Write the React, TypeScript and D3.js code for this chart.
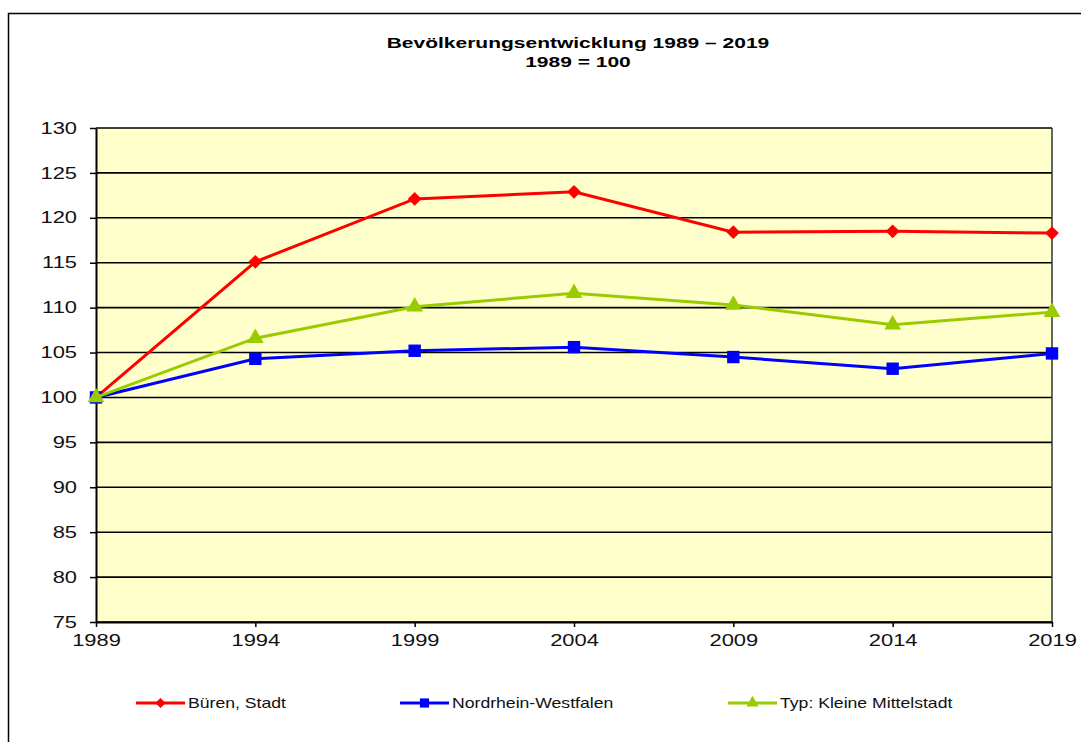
import { useEffect, useRef } from 'react';
import * as d3 from 'd3';

const years = [1989, 1994, 1999, 2004, 2009, 2014, 2019];
const bueren = [100, 115.1, 122.1, 122.9, 118.4, 118.5, 118.3];
const nrw = [100, 104.3, 105.2, 105.6, 104.5, 103.2, 104.9];
const mittelstadt = [100, 106.6, 110.1, 111.6, 110.3, 108.1, 109.5];
const yTicks = [75, 80, 85, 90, 95, 100, 105, 110, 115, 120, 125, 130];

const series = [
  { name: 'Büren, Stadt', values: bueren, color: '#ff0000', marker: 'diamond' },
  { name: 'Nordrhein-Westfalen', values: nrw, color: '#0000ff', marker: 'square' },
  { name: 'Typ: Kleine Mittelstadt', values: mittelstadt, color: '#99cc00', marker: 'triangle' },
];

const W = 1081;
const H = 742;
const FONT = '"Liberation Sans", Arial, sans-serif';

const App = () => {
  const svgRef = useRef<SVGSVGElement>(null);

  useEffect(() => {
    if (!svgRef.current) return;
    const svg = d3.select(svgRef.current);
    svg.selectAll('*').remove();

    const left = 96, right = 1052, top = 128, bottom = 622;
    // the source text is drawn horizontally stretched
    const tickStretch = 1.37, titleStretch = 1.4, legendStretch = 1.26;

    const x = d3.scalePoint<number>().domain(years).range([left, right]);
    const y = d3.scaleLinear().domain([75, 130]).range([bottom, top]);

    // outer frame (left + top only visible)
    svg.append('path')
      .attr('d', `M8.5,${H} V13.5 H${W}`)
      .attr('fill', 'none')
      .attr('stroke', '#000')
      .attr('stroke-width', 1.5);

    // title
    const title = svg.append('text')
      .attr('text-anchor', 'middle')
      .attr('transform', `scale(${titleStretch},1)`)
      .style('font-family', FONT)
      .style('font-weight', 'bold')
      .style('font-size', '15px')
      .style('fill', '#000');
    title.append('tspan').attr('x', 578 / titleStretch).attr('y', 48).text('Bevölkerungsentwicklung 1989 – 2019');
    title.append('tspan').attr('x', 578 / titleStretch).attr('y', 67).text('1989 = 100');

    // plot background
    svg.append('rect')
      .attr('x', left).attr('y', top)
      .attr('width', right - left).attr('height', bottom - top)
      .attr('fill', '#ffffcc');

    // horizontal gridlines
    svg.append('g')
      .selectAll('line')
      .data(yTicks)
      .enter()
      .append('line')
      .attr('x1', left).attr('x2', right)
      .attr('y1', d => y(d)).attr('y2', d => y(d))
      .attr('stroke', '#000')
      .attr('stroke-width', 1.6);

    // right border
    svg.append('line')
      .attr('x1', right).attr('x2', right)
      .attr('y1', top).attr('y2', bottom)
      .attr('stroke', '#333')
      .attr('stroke-width', 1.5);

    // y axis
    const yAxis = svg.append('g')
      .attr('transform', `translate(${left},0)`)
      .call(d3.axisLeft(y).tickValues(yTicks).tickSize(6).tickPadding(13).tickSizeOuter(0));
    yAxis.select('.domain').attr('stroke', '#000').attr('stroke-width', 2);
    yAxis.selectAll('.tick line').attr('stroke', '#000').attr('stroke-width', 1.5);
    yAxis.selectAll('text')
      .attr('x', -19 / tickStretch)
      .attr('transform', `scale(${tickStretch},1)`)
      .style('font-family', FONT)
      .style('font-size', '16px')
      .style('fill', '#111');

    // x axis
    const xAxis = svg.append('g')
      .attr('transform', `translate(0,${bottom})`)
      .call(d3.axisBottom(x).tickSize(5).tickPadding(8).tickSizeOuter(0).tickFormat(d => String(d)));
    xAxis.select('.domain').attr('stroke', '#000').attr('stroke-width', 2);
    xAxis.selectAll('.tick line').attr('stroke', '#000').attr('stroke-width', 1.5);
    xAxis.selectAll('text')
      .attr('transform', `scale(${tickStretch},1)`)
      .style('font-family', FONT)
      .style('font-size', '16px')
      .style('fill', '#111');

    const symbolFor = (m: string, size: number) => {
      if (m === 'diamond') return d3.symbol().type(d3.symbolDiamond2).size(size * 1.1)();
      if (m === 'square') return d3.symbol().type(d3.symbolSquare).size(size * 1.4)();
      return d3.symbol().type(d3.symbolTriangle).size(size * 1.1)();
    };

    const line = d3.line<number>()
      .x((_, i) => x(years[i]) as number)
      .y(d => y(d));

    series.forEach(s => {
      svg.append('path')
        .datum(s.values)
        .attr('fill', 'none')
        .attr('stroke', s.color)
        .attr('stroke-width', 3)
        .attr('d', line);

      svg.append('g')
        .selectAll('path')
        .data(s.values)
        .enter()
        .append('path')
        .attr('transform', (d, i) => `translate(${x(years[i])},${y(d)})`)
        .attr('d', symbolFor(s.marker, 110))
        .attr('fill', s.color);
    });

    // legend
    const legendX = [136, 400, 728];
    const legendY = 703;
    series.forEach((s, i) => {
      const g = svg.append('g').attr('transform', `translate(${legendX[i]},${legendY})`);
      g.append('line')
        .attr('x1', 0).attr('x2', 49)
        .attr('y1', 0).attr('y2', 0)
        .attr('stroke', s.color)
        .attr('stroke-width', 3);
      g.append('path')
        .attr('transform', 'translate(24.5,0)')
        .attr('d', symbolFor(s.marker, 60))
        .attr('fill', s.color);
      g.append('text')
        .attr('x', 52 / legendStretch).attr('y', 5)
        .attr('transform', `scale(${legendStretch},1)`)
        .style('font-family', FONT)
        .style('font-size', '14px')
        .style('fill', '#111')
        .text(s.name);
    });
  }, []);

  return (
    <svg
      ref={svgRef}
      width={W}
      height={H}
      style={{ position: 'absolute', left: 0, top: 0, background: '#fff' }}
    />
  );
};

export default App;
